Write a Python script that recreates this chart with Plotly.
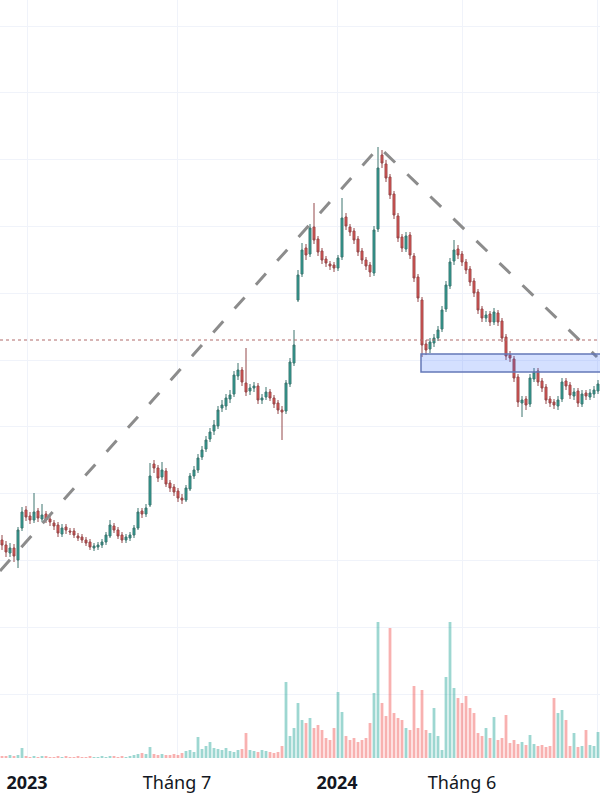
import plotly.graph_objects as go

# Daily-ish candles (one per bar slot), prices in arbitrary chart units
opens = [26.0, 25.5, 24.7, 25.2, 24.0, 27.2, 29.0, 28.4, 28.0, 28.9,
         28.1, 28.6, 28.1, 27.7, 27.5, 26.6, 27.3, 26.9, 26.9, 26.4,
         26.3, 26.0, 25.8, 25.2, 25.3, 25.5, 25.8, 26.4, 27.4, 27.0,
         26.5, 26.0, 26.2, 26.5, 27.2, 28.9, 28.6, 29.5, 33.6, 33.2,
         32.3, 32.9, 31.7, 31.3, 30.9, 30.2, 30.0, 31.1, 32.4, 33.0,
         34.3, 35.1, 36.1, 36.9, 37.4, 39.2, 39.4, 40.1, 40.6, 42.4,
         43.0, 41.7, 40.9, 41.2, 41.4, 40.0, 40.3, 40.8, 40.2, 39.7,
         39.0, 38.9, 41.6, 43.7, 50.0, 52.6, 55.2, 54.6, 57.3, 56.1,
         54.9, 54.1, 53.6, 53.5, 53.2, 54.3, 58.3, 57.3, 56.9, 56.1,
         54.9, 54.0, 53.5, 52.7, 57.1, 64.5, 63.6, 62.3, 60.6, 58.4,
         56.3, 55.1, 56.5, 54.4, 52.3, 50.0, 45.6, 45.1, 45.7, 46.2,
         47.1, 49.1, 51.4, 53.9, 55.1, 54.6, 53.8, 53.1, 51.9, 50.8,
         49.1, 48.2, 48.6, 47.8, 48.7, 47.9, 46.3, 44.5, 44.1, 42.3,
         39.7, 40.1, 39.6, 42.1, 42.9, 41.9, 41.3, 40.1, 39.8, 39.4,
         40.1, 41.9, 41.5, 40.4, 40.9, 39.6, 40.7, 40.3, 40.6, 40.9]
highs = [26.5, 25.9, 25.7, 25.6, 27.3, 29.3, 29.4, 28.8, 30.7, 29.2,
         29.6, 28.9, 28.4, 28.0, 27.8, 27.6, 27.6, 27.2, 27.2, 26.7,
         26.6, 26.3, 26.1, 25.7, 25.8, 26.1, 26.8, 28.0, 27.7, 27.3,
         26.8, 26.6, 26.8, 27.5, 29.2, 29.2, 29.6, 33.7, 34.0, 33.5,
         33.8, 33.2, 32.0, 31.6, 31.2, 30.6, 31.5, 32.7, 33.4, 34.6,
         35.4, 36.4, 37.2, 38.0, 39.4, 40.0, 40.6, 41.0, 42.9, 43.7,
         43.3, 45.2, 41.6, 41.8, 41.7, 40.6, 41.3, 41.1, 40.5, 40.0,
         39.4, 42.0, 44.2, 47.0, 53.0, 55.7, 55.6, 57.6, 59.7, 56.4,
         55.2, 54.4, 53.9, 53.8, 54.5, 60.2, 58.7, 57.6, 57.2, 56.4,
         55.2, 54.3, 53.8, 57.4, 65.3, 65.0, 64.0, 62.6, 60.9, 58.7,
         56.6, 56.8, 56.8, 54.7, 52.6, 50.3, 46.0, 46.2, 46.6, 47.4,
         49.4, 51.9, 54.2, 56.0, 55.5, 54.9, 54.1, 53.4, 52.2, 51.1,
         49.4, 48.9, 48.9, 49.2, 49.0, 48.2, 46.6, 44.9, 44.4, 42.6,
         40.4, 40.4, 42.6, 43.2, 43.2, 42.2, 41.6, 40.4, 40.1, 40.4,
         42.2, 42.2, 41.8, 41.2, 41.2, 41.0, 41.0, 41.1, 41.4, 42.0]
lows = [25.0, 24.3, 24.3, 23.8, 23.2, 26.9, 27.9, 27.6, 27.7, 27.8,
        27.8, 27.7, 27.4, 27.0, 26.3, 26.3, 26.6, 26.5, 26.2, 25.9,
        25.7, 25.4, 25.0, 24.9, 25.0, 25.2, 25.5, 26.2, 26.7, 26.1,
        25.7, 25.7, 25.9, 26.2, 27.0, 28.2, 28.3, 29.3, 32.7, 31.8,
        32.0, 31.3, 30.8, 30.4, 29.8, 29.6, 29.8, 30.9, 32.1, 32.7,
        34.0, 34.8, 35.8, 36.5, 37.1, 38.8, 39.0, 39.7, 40.3, 42.0,
        41.4, 40.4, 40.5, 40.8, 39.6, 39.6, 40.0, 39.9, 39.2, 38.6,
        36.0, 38.6, 41.3, 43.4, 49.8, 52.3, 54.0, 54.3, 55.6, 54.4,
        53.6, 53.3, 53.0, 52.8, 52.9, 54.0, 57.0, 56.4, 55.6, 54.4,
        53.6, 53.0, 52.3, 52.4, 56.8, 63.2, 61.8, 60.1, 58.1, 55.8,
        54.8, 54.8, 54.1, 51.8, 49.8, 44.3, 44.5, 44.7, 45.3, 45.9,
        46.8, 48.8, 51.1, 53.5, 54.1, 53.4, 52.6, 51.4, 50.3, 48.6,
        47.8, 47.8, 47.4, 47.5, 47.4, 45.8, 44.0, 43.8, 41.8, 39.3,
        38.3, 39.0, 39.3, 41.8, 41.4, 40.8, 39.6, 39.3, 39.1, 39.0,
        39.8, 41.0, 40.1, 40.0, 39.3, 39.3, 40.0, 40.0, 40.2, 40.6]
closes = [25.5, 24.8, 25.2, 24.4, 27.0, 28.8, 28.3, 28.0, 28.8, 28.2,
          28.5, 28.0, 27.8, 27.4, 26.7, 27.2, 27.0, 26.8, 26.5, 26.2,
          26.0, 25.7, 25.3, 25.4, 25.5, 25.8, 26.5, 27.5, 27.0, 26.4,
          26.0, 26.3, 26.5, 27.2, 28.8, 28.6, 29.2, 32.4, 33.2, 32.2,
          33.0, 31.6, 31.2, 30.8, 30.2, 30.0, 31.2, 32.4, 33.0, 34.2,
          35.0, 36.0, 36.8, 37.5, 39.0, 39.5, 40.2, 40.5, 42.5, 43.0,
          41.8, 40.8, 41.2, 41.4, 40.0, 40.2, 40.8, 40.2, 39.6, 39.0,
          38.8, 41.7, 43.8, 45.5, 52.5, 55.0, 54.5, 57.2, 56.0, 54.8,
          54.0, 53.7, 53.4, 53.2, 54.2, 58.2, 57.4, 56.8, 56.0, 54.8,
          54.0, 53.4, 52.8, 57.0, 63.2, 63.7, 62.2, 60.5, 58.5, 56.2,
          55.2, 56.4, 54.5, 52.2, 50.2, 45.5, 45.0, 45.8, 46.2, 47.0,
          49.0, 51.5, 53.8, 55.0, 54.5, 53.8, 53.0, 51.8, 50.7, 49.0,
          48.2, 48.5, 47.8, 48.8, 47.8, 46.2, 44.4, 44.2, 42.2, 39.8,
          40.0, 39.5, 42.2, 42.8, 41.8, 41.2, 40.0, 39.7, 39.5, 40.0,
          41.8, 41.4, 40.5, 40.8, 39.7, 40.6, 40.4, 40.7, 41.0, 41.6]
volumes = [2, 2, 3, 2, 3, 10, 2, 1, 2, 1,
           2, 2, 1, 1, 2, 1, 2, 1, 1, 2,
           1, 1, 2, 1, 1, 2, 1, 2, 2, 1,
           2, 1, 2, 3, 4, 5, 4, 11, 4, 3,
           4, 3, 3, 4, 3, 5, 7, 8, 6, 21,
           9, 12, 16, 10, 9, 8, 10, 7, 6, 8,
           9, 25, 8, 7, 6, 8, 7, 6, 5, 6,
           12, 76, 22, 30, 55, 38, 35, 40, 30, 33,
           28, 20, 18, 30, 66, 46, 22, 18, 20, 16,
           18, 20, 35, 65, 136, 55, 42, 130, 45, 40,
           38, 30, 28, 72, 30, 68, 28, 25, 50, 22,
           8, 81, 136, 70, 60, 55, 62, 50, 45, 25,
           22, 30, 20, 41, 18, 20, 43, 15, 18, 14,
           16, 13, 23, 14, 12, 13, 11, 12, 60, 45,
           48, 38, 12, 25, 11, 12, 28, 13, 12, 26]

tick_pos = [6.25, 43.75, 83.75, 115.0, 148.75]
tick_text = ["<b>2023</b>", "Tháng 7", "<b>2024</b>", "Tháng 6", ""]

# drawings
trend_x = [-0.5, 94.25, 148.75]
trend_y = [22.9, 65.3, 44.3]
level_price = 46.0
zone_x = [104.75, 150]
zone_y = [42.8, 44.6]

idx = list(range(len(closes)))
vol_colors = ["rgba(38,166,154,0.45)" if c >= o else "rgba(239,83,80,0.45)"
              for o, c in zip(opens, closes)]

fig = go.Figure()
fig.add_trace(go.Bar(x=idx, y=volumes, marker_color=vol_colors, marker_line_width=0,
                     yaxis="y2", hoverinfo="skip"))
fig.add_trace(go.Candlestick(
    x=idx, open=opens, high=highs, low=lows, close=closes,
    increasing=dict(fillcolor="#26a69a", line=dict(color="#3d746f", width=1)),
    decreasing=dict(fillcolor="#ef5350", line=dict(color="#94484a", width=1)),
    whiskerwidth=0))
fig.add_trace(go.Scatter(x=trend_x, y=trend_y, mode="lines",
                         line=dict(color="#8c8c8c", width=3, dash="15px,17px"),
                         hoverinfo="skip"))

fig.add_shape(type="line", xref="paper", x0=0, x1=1, y0=level_price, y1=level_price,
              line=dict(color="#b06a6a", width=1, dash="dot"))
fig.add_shape(type="rect", x0=zone_x[0], x1=zone_x[1], y0=zone_y[0], y1=zone_y[1],
              line=dict(color="#6478b8", width=1.5), fillcolor="rgba(41,98,255,0.2)",
              layer="above")

fig.update_layout(
    width=600, height=800, showlegend=False, bargap=0.3,
    margin=dict(l=0, r=0, t=0, b=42),
    paper_bgcolor="white", plot_bgcolor="white",
    xaxis=dict(range=[-0.5, 149.5], rangeslider=dict(visible=False),
               tickmode="array", tickvals=tick_pos, ticktext=tick_text,
               showgrid=True, gridcolor="#f0f3fa", zeroline=False,
               ticks="outside", ticklen=8, tickcolor="rgba(0,0,0,0)",
               tickfont=dict(family="Noto Sans", size=18, color="#131722")),
    yaxis=dict(range=[4.2, 80], showticklabels=False, showgrid=True,
               gridcolor="#f0f3fa", zeroline=False, tick0=10.6, dtick=6.68),
    yaxis2=dict(range=[0, 758], overlaying="y", visible=False),
)

# drop the default page margin so the chart sits flush in the window
fig.write_html("out.html", config={"displayModeBar": False},
               post_script="document.body.style.margin='0';")
